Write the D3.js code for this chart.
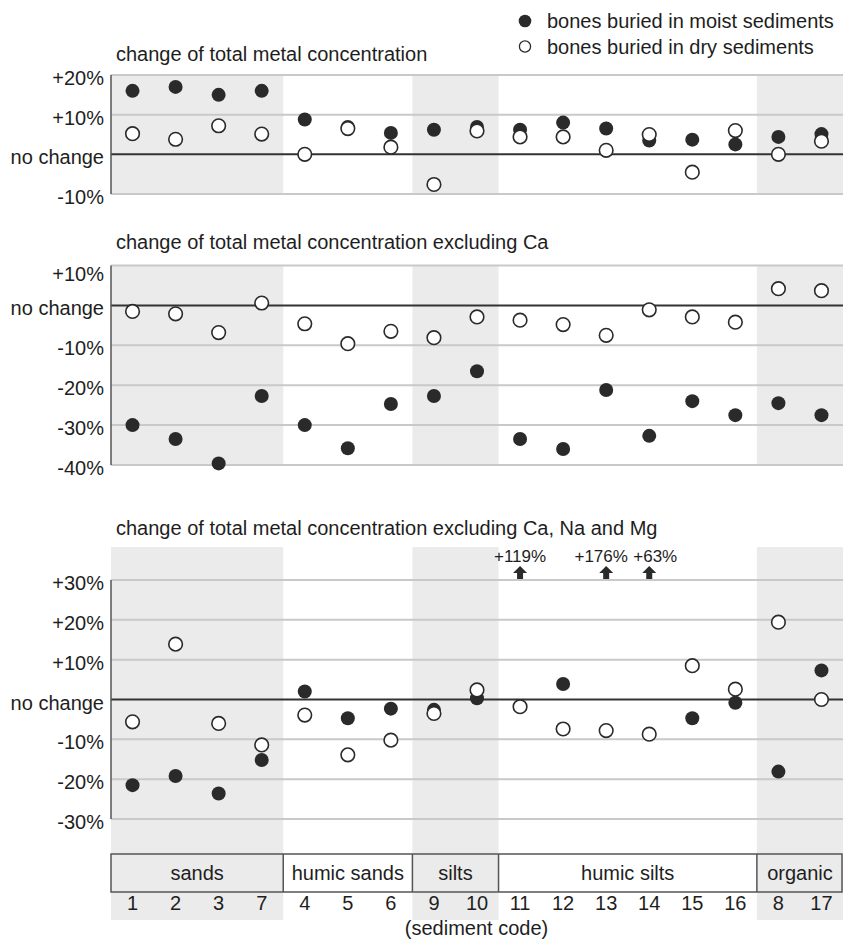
<!DOCTYPE html>
<html>
<head>
<meta charset="utf-8">
<script src="https://cdn.jsdelivr.net/npm/d3@7"></script>
<style>
  html, body { margin: 0; padding: 0; background: #fff; }
  svg { display: block; font-family: "Liberation Sans", Arial, sans-serif; }
</style>
</head>
<body>
<svg id="chart" width="843" height="940"></svg>
<script>
// Sediment codes in plotting order, grouped by sediment type
const codes = ["1", "2", "3", "7", "4", "5", "6", "9", "10", "11", "12", "13", "14", "15", "16", "8", "17"];
const groupNames = ["sands", "humic sands", "silts", "humic silts", "organic"];
const groupSizes = [4, 3, 2, 6, 2];
const groupShaded = [true, false, true, false, true];

// Change (%) of total metal concentration
const totalMoist = [16, 17, 15, 16, 8.8, 6.9, 5.4, 6.2, 6.9, 6.2, 8.0, 6.5, 3.5, 3.7, 2.5, 4.4, 5.1];
const totalDry   = [5.2, 3.8, 7.2, 5.1, 0, 6.5, 1.8, -7.6, 5.9, 4.4, 4.4, 1.0, 5.0, -4.5, 6.0, 0, 3.3];

// Change (%) excluding Ca
const exCaMoist = [-30, -33.5, -39.6, -22.7, -30, -35.8, -24.7, -22.7, -16.5, -33.5, -36, -21.2, -32.7, -24, -27.5, -24.5, -27.5];
const exCaDry   = [-1.5, -2.1, -6.8, 0.6, -4.6, -9.6, -6.5, -8.1, -2.9, -3.7, -4.8, -7.5, -1.1, -2.9, -4.2, 4.2, 3.7];

// Change (%) excluding Ca, Na and Mg
const exCaNaMgMoist = [-21.5, -19.2, -23.6, -15.2, 2.0, -4.7, -2.3, -2.6, 0.3, 119, 3.9, 176, 63, -4.7, -0.8, -18.1, 7.3];
const exCaNaMgDry   = [-5.6, 13.9, -6.0, -11.4, -3.9, -13.9, -10.2, -3.5, 2.4, -1.8, -7.4, -7.8, -8.7, 8.5, 2.6, 19.4, 0];

// Tick values per panel
const ticksTotal = [20, 10, 0, -10];
const ticksExCa = [10, 0, -10, -20, -30, -40];
const ticksExCaNaMg = [30, 20, 10, 0, -10, -20, -30];

const legendLabels = ["bones buried in moist sediments", "bones buried in dry sediments"];
const xAxisTitle = "(sediment code)";

const svg = d3.select("#chart");
const left = 111, right = 843;
const ink = "#1e1e1e";
const dotInk = "#2a2a2a";
const bandFill = "#ebebeb";
const gridColor = "#c9c9c9";
const fontSize = 20;

const x = d3.scaleBand().domain(codes).range([left, right]).padding(0);

// Group spans
let acc = 0;
const groups = groupNames.map((name, i) => {
  const g = { name, shaded: groupShaded[i], x0: x(codes[acc]), x1: x(codes[acc]) + x.bandwidth() * groupSizes[i] };
  acc += groupSizes[i];
  return g;
});

const fmt = v => v === 0 ? "no change" : (v > 0 ? "+" + v + "%" : v + "%");

const panels = [
  { title: "change of total metal concentration", titleY: 61, domain: [-10, 20], range: [194, 75],
    bandTop: 75, bandBottom: 194, ticks: ticksTotal, moist: totalMoist, dry: totalDry, topNudge: 0 },
  { title: "change of total metal concentration excluding Ca", titleY: 249, domain: [-40, 10], range: [465, 265.5],
    bandTop: 265.5, bandBottom: 465, ticks: ticksExCa, moist: exCaMoist, dry: exCaDry, topNudge: 5 },
  { title: "change of total metal concentration excluding Ca, Na and Mg", titleY: 535, domain: [-30, 30], range: [819, 580],
    bandTop: 547, bandBottom: 920, ticks: ticksExCaNaMg, moist: exCaNaMgMoist, dry: exCaNaMgDry, topNudge: 0 }
];

panels.forEach(p => {
  const y = d3.scaleLinear().domain(p.domain).range(p.range);
  const g = svg.append("g");

  // shaded sediment-type bands
  g.selectAll("rect.band").data(groups.filter(d => d.shaded)).join("rect")
    .attr("x", d => d.x0).attr("width", d => d.x1 - d.x0)
    .attr("y", p.bandTop).attr("height", p.bandBottom - p.bandTop)
    .attr("fill", bandFill);

  // grid lines
  g.selectAll("line.grid").data(p.ticks).join("line")
    .attr("x1", left).attr("x2", right)
    .attr("y1", d => y(d)).attr("y2", d => y(d))
    .attr("stroke", d => d === 0 ? "#333" : gridColor)
    .attr("stroke-width", 2);

  // vertical axis line
  g.append("line")
    .attr("x1", left).attr("x2", left)
    .attr("y1", y(p.domain[1])).attr("y2", y(p.domain[0]))
    .attr("stroke", "#555").attr("stroke-width", 1.5);

  // tick labels
  g.selectAll("text.tick").data(p.ticks).join("text")
    .attr("x", 104)
    .attr("y", (d, i) => y(d) + 3 + (i === 0 ? p.topNudge : 0))
    .attr("dy", "0.35em")
    .attr("text-anchor", "end")
    .attr("font-size", fontSize).attr("fill", ink)
    .text(fmt);

  // panel title
  g.append("text")
    .attr("x", 116).attr("y", p.titleY)
    .attr("font-size", fontSize).attr("fill", ink)
    .text(p.title);

  const maxV = p.domain[1];
  const moistIn = p.moist.map((v, i) => ({ code: codes[i], v })).filter(d => d.v <= maxV);
  const moistOut = p.moist.map((v, i) => ({ code: codes[i], v })).filter(d => d.v > maxV);
  const dryPts = p.dry.map((v, i) => ({ code: codes[i], v }));

  // moist sediments: filled dots
  g.selectAll("circle.moist").data(moistIn).join("circle")
    .attr("cx", d => x(d.code) + x.bandwidth() / 2)
    .attr("cy", d => y(d.v))
    .attr("r", 7)
    .attr("fill", dotInk);

  // dry sediments: open dots
  g.selectAll("circle.dry").data(dryPts).join("circle")
    .attr("cx", d => x(d.code) + x.bandwidth() / 2)
    .attr("cy", d => y(d.v))
    .attr("r", 6.8)
    .attr("fill", "#fff").attr("stroke", dotInk).attr("stroke-width", 1.6);

  // off-scale values: arrow at the top edge with the value
  const arrowNudge = { "13": -5, "14": 6 };
  moistOut.forEach(d => {
    const cx = x(d.code) + x.bandwidth() / 2;
    const yb = y(maxV) - 1;
    const arrow = d3.path();
    arrow.moveTo(cx - 3, yb);
    arrow.lineTo(cx - 3, yb - 6);
    arrow.lineTo(cx - 7, yb - 6);
    arrow.lineTo(cx, yb - 13);
    arrow.lineTo(cx + 7, yb - 6);
    arrow.lineTo(cx + 3, yb - 6);
    arrow.lineTo(cx + 3, yb);
    arrow.closePath();
    g.append("path").attr("d", arrow.toString()).attr("fill", dotInk);
    g.append("text")
      .attr("x", cx + (arrowNudge[d.code] || 0)).attr("y", yb - 17)
      .attr("text-anchor", "middle")
      .attr("font-size", 17).attr("fill", ink)
      .text("+" + d.v + "%");
  });
});

// category box below the bottom panel
const boxTop = 854, boxBottom = 892;
const box = svg.append("g");
box.selectAll("rect.cat").data(groups).join("rect")
  .attr("x", d => d.x0).attr("width", d => d.x1 - d.x0)
  .attr("y", boxTop).attr("height", boxBottom - boxTop)
  .attr("fill", d => d.shaded ? bandFill : "#fff");
box.selectAll("line.div").data(groups.slice(1)).join("line")
  .attr("x1", d => d.x0).attr("x2", d => d.x0)
  .attr("y1", boxTop).attr("y2", boxBottom)
  .attr("stroke", "#555").attr("stroke-width", 1.5);
box.append("rect")
  .attr("x", left).attr("y", boxTop)
  .attr("width", right - 1 - left).attr("height", boxBottom - boxTop)
  .attr("fill", "none").attr("stroke", "#555").attr("stroke-width", 1.5);
box.selectAll("text.cat").data(groups).join("text")
  .attr("x", d => (d.x0 + d.x1) / 2).attr("y", (boxTop + boxBottom) / 2)
  .attr("dy", "0.35em").attr("text-anchor", "middle")
  .attr("font-size", fontSize).attr("fill", ink)
  .text(d => d.name);

// sediment code labels
svg.selectAll("text.code").data(codes).join("text")
  .attr("x", d => x(d) + x.bandwidth() / 2).attr("y", 903)
  .attr("dy", "0.35em").attr("text-anchor", "middle")
  .attr("font-size", fontSize).attr("fill", ink)
  .text(d => d);

svg.append("text")
  .attr("x", (left + right) / 2 - 0.5).attr("y", 928)
  .attr("dy", "0.35em").attr("text-anchor", "middle")
  .attr("font-size", fontSize).attr("fill", ink)
  .text(xAxisTitle);

// legend
const legend = svg.append("g");
legendLabels.forEach((label, i) => {
  const ly = 21 + i * 25.5;
  legend.append("circle")
    .attr("cx", 525).attr("cy", ly).attr("r", i === 0 ? 6.3 : 5.6)
    .attr("fill", i === 0 ? dotInk : "#fff")
    .attr("stroke", i === 0 ? "none" : dotInk).attr("stroke-width", 1.3);
  legend.append("text")
    .attr("x", 547).attr("y", ly).attr("dy", "0.35em")
    .attr("font-size", fontSize).attr("fill", ink)
    .text(label);
});
</script>
</body>
</html>
